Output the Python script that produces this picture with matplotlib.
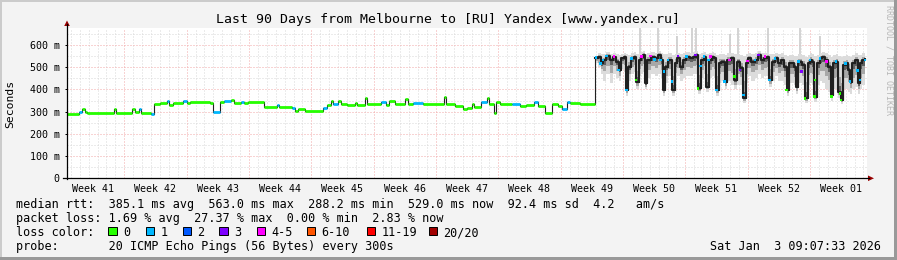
import matplotlib
matplotlib.use("Agg")
import matplotlib.pyplot as plt
from matplotlib.lines import Line2D
from matplotlib.patches import Rectangle, Polygon

W, H, DPI = 897, 260, 100

# ---------------- text / labels ----------------
title = "Last 90 Days from Melbourne to [RU] Yandex [www.yandex.ru]"
ylabel = "Seconds"
watermark = "RRDTOOL / TOBI OETIKER"
y_ticks = [0, 100, 200, 300, 400, 500, 600]
y_tick_labels = ["0", "100 m", "200 m", "300 m", "400 m", "500 m", "600 m"]
week_labels = ["Week 41", "Week 42", "Week 43", "Week 44", "Week 45", "Week 46", "Week 47",
               "Week 48", "Week 49", "Week 50", "Week 51", "Week 52", "Week 01"]
first_monday = 6.435   # days after the graph start
span_days = 89.78
legend_lines = [
    "median rtt:  385.1 ms avg  563.0 ms max  288.2 ms min  529.0 ms now  92.4 ms sd  4.2   am/s",
    "packet loss: 1.69 % avg  27.37 % max  0.00 % min  2.83 % now",
    "loss color:",
    "probe:       20 ICMP Echo Pings (56 Bytes) every 300s",
]
timestamp = "Sat Jan  3 09:07:33 2026"
loss_labels = ["0", "1", "2", "3", "4-5", "6-10", "11-19", "20/20"]
loss_colors = ["#26ff00", "#00b8ff", "#0059ff", "#7e00ff", "#ff00ff", "#ff5500", "#ff0000", "#a10000"]

# ---------------- data: steady part (steps) ----------------
days_a = [0.00, 1.35, 1.68, 2.02, 2.25, 5.28, 5.50, 7.30, 7.64, 8.09, 8.31, 9.43, 9.77, 10.44, 11.23,
          11.45, 11.90, 13.03, 13.47, 13.81, 16.06, 16.40, 17.18, 17.63, 18.42, 18.75, 19.54, 19.88,
          20.33, 22.12, 23.58, 23.81, 25.27, 25.60, 25.94, 26.73, 28.75, 29.20, 29.65, 29.87, 30.43,
          30.77, 31.44, 32.34, 32.57, 33.46, 33.69, 35.26, 35.82, 36.16, 36.83, 37.96, 38.29, 38.85,
          39.98, 42.34, 42.56, 43.57, 44.47, 44.92, 45.48, 45.70, 46.49, 47.16, 47.39, 47.95, 48.17,
          48.62, 49.97, 50.87, 51.54, 52.44, 52.89, 53.68, 54.46, 55.14, 55.59, 56.15, 56.49, 57.61]
median_a = [289, 300, 313, 300, 293, 310, 295, 313, 300, 310, 295, 289, 333, 340, 346, 330, 337, 346,
            337, 345, 340, 300, 345, 348, 354, 340, 342, 337, 342, 320, 330, 322, 316, 303, 310, 304,
            315, 330, 349, 335, 349, 335, 330, 337, 330, 360, 335, 344, 332, 349, 335, 355, 335, 340,
            335, 367, 335, 325, 312, 318, 333, 320, 343, 360, 333, 293, 345, 335, 335, 325, 330, 343,
            327, 292, 335, 325, 312, 345, 340, 335]
loss_a = [0, 1, 0, 0, 0, 0, 0, 0, 0, 1, 0, 1, 0, 0, 1, 0, 0, 1, 0, 0, 0, 1, 0, 1, 0, 0, 1, 0, 0, 0,
          1, 0, 1, 0, 0, 0, 1, 0, 0, 1, 0, 0, 0, 0, 0, 0, 0, 1, 0, 0, 0, 0, 0, 1, 0, 0, 0, 0, 0, 0,
          0, 0, 1, 0, 0, 0, 0, 0, 1, 0, 0, 1, 0, 0, 0, 0, 1, 1, 0, 0]

# ---------------- data: noisy part ----------------
days_b = [59.24, 59.63, 59.93, 60.19, 60.56, 60.94, 61.31, 61.68, 61.95, 62.25,
          62.55, 62.81, 63.00, 63.37, 63.67, 63.93, 64.20, 64.49, 64.68, 64.94,
          65.17, 65.61, 66.00, 66.37, 66.67, 66.93, 67.19, 67.49, 67.94, 68.24,
          68.54, 68.81, 69.18, 69.55, 69.93, 70.30, 70.67, 70.86, 71.16, 71.53,
          71.79, 72.06, 72.43, 72.66, 72.91, 73.18, 73.48, 73.86, 74.17, 74.56,
          74.93, 75.20, 75.58, 75.95, 76.22, 76.51, 76.81, 77.26, 77.63, 77.93,
          78.30, 78.57, 78.86, 79.13, 79.51, 79.88, 80.18, 80.52, 80.82, 81.08,
          81.38, 81.64, 81.90, 82.12, 82.50, 82.87, 83.18, 83.43, 83.69, 83.92,
          84.19, 84.56, 84.82, 85.12, 85.49, 85.79, 86.05, 86.36, 86.62, 86.92,
          87.18, 87.44, 87.67, 87.93, 88.19, 88.49, 88.79, 89.05, 89.31, 89.61]
median_b = [540, 547, 518, 532, 550, 532, 544, 525, 488, 540,
            547, 397, 502, 540, 547, 435, 532, 547, 555, 427,
            532, 547, 540, 555, 532, 397, 502, 532, 397, 518,
            540, 502, 532, 547, 540, 547, 555, 405, 532, 547,
            412, 532, 547, 540, 397, 518, 525, 435, 532, 540,
            443, 525, 495, 360, 518, 540, 525, 532, 555, 532,
            540, 547, 443, 525, 540, 518, 532, 502, 397, 518,
            518, 502, 412, 525, 510, 360, 518, 532, 525, 367,
            518, 540, 547, 532, 502, 375, 518, 525, 390, 352,
            510, 518, 488, 435, 518, 532, 427, 518, 532, 535]
smoke_lo_b = [520, 500, 470, 440, 470, 430, 470, 450, 440, 490,
              480, 370, 440, 470, 480, 400, 460, 470, 480, 400,
              450, 470, 460, 470, 450, 370, 430, 460, 370, 440,
              460, 440, 450, 460, 460, 470, 470, 380, 450, 470,
              390, 450, 460, 450, 370, 430, 440, 400, 440, 420,
              400, 420, 420, 340, 430, 460, 440, 450, 470, 450,
              460, 460, 410, 440, 460, 440, 440, 420, 370, 430,
              430, 420, 380, 430, 420, 340, 420, 430, 420, 345,
              420, 440, 430, 400, 390, 350, 400, 400, 360, 335,
              400, 400, 390, 380, 400, 410, 380, 400, 420, 430]
smoke_hi_b = [550, 565, 560, 560, 570, 560, 565, 560, 555, 560,
              565, 560, 555, 565, 570, 560, 565, 570, 575, 560,
              565, 570, 565, 575, 565, 560, 560, 565, 555, 560,
              565, 560, 565, 570, 565, 570, 575, 560, 565, 570,
              560, 565, 570, 565, 555, 560, 560, 555, 565, 565,
              560, 560, 555, 550, 560, 565, 560, 565, 575, 565,
              565, 570, 560, 560, 565, 560, 565, 555, 550, 555,
              555, 550, 550, 560, 555, 545, 555, 565, 560, 550,
              555, 565, 570, 565, 555, 545, 555, 560, 550, 545,
              550, 555, 550, 545, 555, 565, 555, 555, 565, 560]

# single high pings (light grey spikes)
spike_days = [64.35, 66.37, 68.50, 70.18, 70.58, 74.45, 75.35, 78.72, 82.31, 84.56]
spike_base = [550, 555, 545, 550, 555, 535, 520, 545, 530, 545]
spike_top = [690, 690, 640, 690, 690, 650, 690, 690, 690, 640]

# loss-coloured median dots in the noisy part
dot_days = [59.41, 59.93, 60.19, 60.56, 61.43, 61.95, 62.81, 63.37, 63.90, 64.49, 65.55, 66.00,
            66.67, 67.04, 67.49, 67.94, 68.61, 69.55, 70.60, 70.86, 71.16, 71.53, 72.06, 72.29,
            72.91, 73.86, 74.43, 74.99, 75.58, 75.95, 76.45, 77.26, 77.63, 78.38, 78.86, 79.51,
            80.82, 82.12, 82.50, 82.87, 83.43, 83.92, 84.00, 84.56, 85.32, 85.87, 86.36, 86.81,
            86.92, 87.44, 87.93, 88.79, 89.05, 89.61]
dot_ms = [545, 518, 532, 550, 547, 488, 397, 540, 443, 547, 550, 535,
          532, 480, 532, 435, 550, 547, 555, 405, 505, 547, 532, 547,
          397, 435, 532, 458, 488, 375, 528, 532, 555, 547, 443, 540,
          397, 525, 480, 360, 532, 367, 443, 540, 525, 368, 525, 383,
          352, 518, 435, 485, 443, 532]
dot_loss = [1, 1, 1, 1, 4, 1, 1, 1, 0, 4, 4, 1,
            1, 1, 1, 1, 3, 1, 3, 0, 1, 1, 1, 4,
            1, 1, 4, 0, 3, 1, 4, 1, 3, 4, 1, 1,
            0, 1, 3, 0, 1, 0, 0, 1, 4, 0, 1, 0,
            0, 1, 1, 1, 1, 1]

# ---------------- figure ----------------
MONO = "DejaVu Sans Mono"
fig = plt.figure(figsize=(W / DPI, H / DPI), dpi=DPI)
fig.patch.set_facecolor("#f3f3f3")


def fx(x):
    return x / W


def fy(y):
    return 1 - y / H


# 3D frame
fig.add_artist(Rectangle((0, fy(2)), 1, 2 / H, transform=fig.transFigure, color="#cbcbcb", lw=0))
fig.add_artist(Rectangle((0, 0), 2 / W, 1, transform=fig.transFigure, color="#cbcbcb", lw=0))
fig.add_artist(Rectangle((0, 0), 1, 3 / H, transform=fig.transFigure, color="#999999", lw=0))
fig.add_artist(Rectangle((fx(894), 0), 3 / W, 1, transform=fig.transFigure, color="#999999", lw=0))

L, R, T, B = 67, 866.5, 28, 178.3
ax = fig.add_axes([fx(L), fy(B), (R - L) / W, (B - T) / H])
ax.set_facecolor("white")
for s in ax.spines.values():
    s.set_visible(False)
ax.set_xlim(0, span_days)
ax.set_ylim(0, (B - T) / (133.3 / 600))

dot = (0, (1, 2))
MAJ = "#f2a8a8"
MIN = "#d8d8d8"
# horizontal grid
for v in range(50, 700, 50):
    if v % 100 == 0:
        ax.axhline(v, color=MAJ, lw=0.72, ls=dot, zorder=1)
    else:
        ax.axhline(v, color=MIN, lw=0.72, ls=dot, zorder=0.5)
# vertical grid: daily minor, weekly major
k = -6
while first_monday + k < span_days:
    d = first_monday + k
    if d > 0.3:
        if k % 7 == 0:
            ax.axvline(d, color=MAJ, lw=0.72, ls=dot, zorder=1)
        else:
            ax.axvline(d, color=MIN, lw=0.72, ls=dot, zorder=0.5)
    k += 1

# smoke
ax.fill_between(days_b, smoke_lo_b, smoke_hi_b, step="post", color="#dcdcdc", lw=0, zorder=2)
mid_lo = [m - (m - lo) * 0.55 for m, lo in zip(median_b, smoke_lo_b)]
mid_hi = [m + (hi - m) * 0.4 for m, hi in zip(median_b, smoke_hi_b)]
ax.fill_between(days_b, mid_lo, mid_hi, step="post", color="#a8a8a8", lw=0, zorder=2.1)
in_lo = [m - (m - lo) * 0.22 for m, lo in zip(median_b, smoke_lo_b)]
in_hi = [m + (hi - m) * 0.15 for m, hi in zip(median_b, smoke_hi_b)]
ax.fill_between(days_b, in_lo, in_hi, step="post", color="#606060", lw=0, zorder=2.2)
ax.vlines(spike_days, spike_base, spike_top, color="#c8c8c8", lw=1.1, zorder=1.8)

# median line
all_days = days_a + days_b
all_med = median_a + median_b
ax.plot(all_days, all_med, drawstyle="steps-post", color="#202020", lw=0.8, zorder=3)
ax.plot(days_b, median_b, drawstyle="steps-post", color="#202020", lw=1.5, zorder=3.2)
ends = days_a[1:] + [days_b[0]]
for d0, d1, m, l in zip(days_a, ends, median_a, loss_a):
    ax.hlines(m, d0, d1, color=loss_colors[l], lw=2.0, zorder=3.1)
ax.scatter(dot_days, dot_ms, s=3.6, marker="s", c=[loss_colors[l] for l in dot_loss],
           linewidths=0, zorder=4)

# ticks
ax.set_yticks(y_ticks, y_tick_labels)
week_centers = [first_monday - 3.5 + 7 * i for i in range(len(week_labels))]
ax.set_xticks(week_centers, week_labels)
ax.tick_params(axis="y", length=1.8, width=0.72, pad=3.6, labelsize=7.2, color="black")
ax.tick_params(axis="x", length=0, pad=4.0, labelsize=7.2)
for lab in ax.get_xticklabels() + ax.get_yticklabels():
    lab.set_family(MONO)

# axes lines and arrows
fig.add_artist(Line2D([fx(L), fx(L)], [fy(B + 0.5), fy(24)], color="black", lw=0.9,
                      transform=fig.transFigure))
fig.add_artist(Line2D([fx(63), fx(869)], [fy(B), fy(B)], color="black", lw=0.9,
                      transform=fig.transFigure))
fig.add_artist(Polygon([(fx(64.2), fy(26)), (fx(69.8), fy(26)), (fx(67), fy(20.5))],
                       closed=True, transform=fig.transFigure, color="#990000", lw=0))
fig.add_artist(Polygon([(fx(868), fy(B - 2.8)), (fx(868), fy(B + 2.8)), (fx(874), fy(B))],
                       closed=True, transform=fig.transFigure, color="#990000", lw=0))

# texts
fig.text(fx(447.7), fy(23), title, ha="center", va="baseline", family=MONO, size=9.55)
fig.text(fx(10.5), fy(103.5), ylabel, ha="center", va="center", rotation=90, family=MONO, size=8.2)
fig.text(fx(888.5), fy(60), watermark, ha="center", va="center", rotation=270, family=MONO,
         size=6.0, color="#b8b8b8")
baselines = [208.3, 222.3, 236.3, 250.3]
for txt, yb in zip(legend_lines, baselines):
    fig.text(fx(16), fy(yb), txt, ha="left", va="baseline", family=MONO, size=8.5)
fig.text(fx(880.5), fy(250.3), timestamp, ha="right", va="baseline", family=MONO, size=8.5)

box_x = [108.3, 145.7, 182.5, 219.2, 256.7, 306.5, 366.7, 429.0]
for bx, lab, col in zip(box_x, loss_labels, loss_colors):
    fig.add_artist(Rectangle((fx(bx), fy(234.8)), 8.3 / W, 8.3 / H, transform=fig.transFigure,
                             facecolor=col, edgecolor="black", lw=0.7))
    fig.text(fx(bx + 14.5), fy(236.3), lab, ha="left", va="baseline", family=MONO, size=8.5)

fig.savefig("out.png", dpi=DPI, facecolor=fig.get_facecolor())
